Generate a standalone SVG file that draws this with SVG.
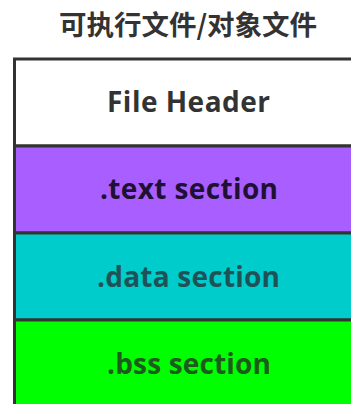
<svg xmlns="http://www.w3.org/2000/svg" width="351" height="404" viewBox="0 0 351 404">
<style>
  .row { stroke: #333333; stroke-width: 3; }
  .lbl { font-family: "Open Sans", "Liberation Sans", sans-serif; font-weight: bold; font-size: 28px; text-anchor: middle; }
  .title { font-family: "Noto Sans CJK SC", sans-serif; font-weight: bold; font-size: 27.5px; text-anchor: middle; fill: #333333; }
</style>
<rect width="351" height="404" fill="#ffffff"/>
<g id="title">
  <text class="title" x="188" y="35">可执行文件/对象文件</text>
</g>
<g id="file-header">
  <rect class="row" x="14.5" y="59" width="360" height="87" fill="#ffffff"/>
  <text class="lbl" x="188.5" y="112" fill="#333333" textLength="163" lengthAdjust="spacing">File Header</text>
</g>
<g id="text-section">
  <rect class="row" x="14.5" y="146" width="360" height="87" fill="#A95EFF"/>
  <text class="lbl" x="189" y="199" fill="#1E1133" textLength="178" lengthAdjust="spacing">.text section</text>
</g>
<g id="data-section">
  <rect class="row" x="14.5" y="233" width="360" height="87" fill="#00CCCC"/>
  <text class="lbl" x="188.5" y="287" fill="#1F5257" textLength="183" lengthAdjust="spacing">.data section</text>
</g>
<g id="bss-section">
  <rect class="row" x="14.5" y="320" width="360" height="87" fill="#00FF00"/>
  <text class="lbl" x="189" y="374" fill="#1E5A1E" textLength="164" lengthAdjust="spacing">.bss section</text>
</g>
<g id="connectors"></g>
</svg>
